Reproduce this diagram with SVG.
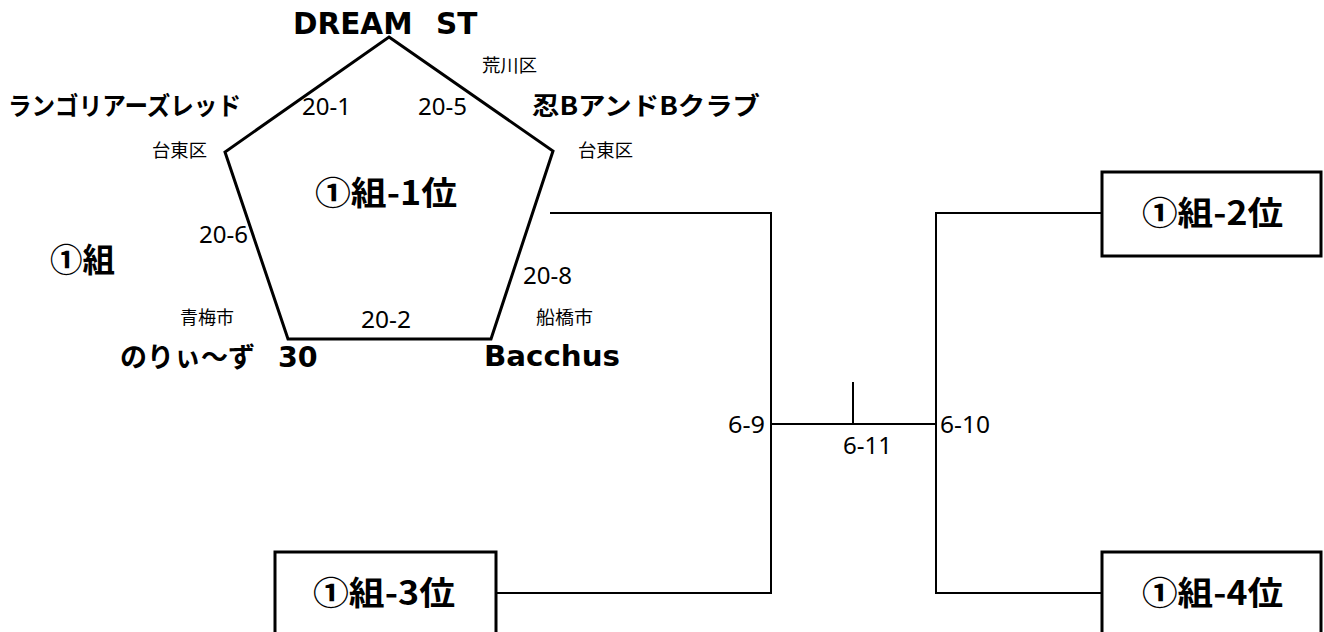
<svg xmlns="http://www.w3.org/2000/svg" width="1324" height="632" viewBox="0 0 1324 632">
<style>
.bg{fill:#fff}
.pent{fill:none;stroke:#000;stroke-width:3;stroke-linejoin:miter}
.conn{fill:none;stroke:#000;stroke-width:2}
.box{fill:#fff;stroke:#000;stroke-width:3}
.latb{font-family:"DejaVu Sans","Noto Sans CJK JP",sans-serif;font-weight:bold;fill:#000}
.jpb{font-family:"Noto Sans CJK JP",sans-serif;font-weight:bold;fill:#000}
.jp{font-family:"Noto Sans CJK JP",sans-serif;font-size:18px;fill:#000}
.num{font-family:"Noto Sans","DejaVu Sans",sans-serif;font-size:24px;fill:#000}
.rank{font-family:"Noto Sans CJK JP",sans-serif;font-weight:bold;font-size:33px;fill:#000}
</style>
<rect class="bg" x="0" y="0" width="1324" height="632"/>
<g id="connectors">
<path class="conn" d="M550 213 H771 V593 H497"/>
<path class="conn" d="M771 424 H936"/>
<path class="conn" d="M853 382 V424"/>
<path class="conn" d="M1102 213 H936 V593 H1102"/>
</g>
<g id="group1-league">
<polygon class="pent" points="389,37 553,151 491,339 288,339 225,152"/>
<text class="num" x="302" y="115" textLength="49" lengthAdjust="spacingAndGlyphs">20-1</text>
<text class="num" x="418" y="115" textLength="49" lengthAdjust="spacingAndGlyphs">20-5</text>
<text class="num" x="199" y="243" textLength="49" lengthAdjust="spacingAndGlyphs">20-6</text>
<text class="num" x="523" y="284" textLength="49" lengthAdjust="spacingAndGlyphs">20-8</text>
<text class="num" x="361" y="328" textLength="50" lengthAdjust="spacingAndGlyphs">20-2</text>
<text class="rank" x="315" y="205" textLength="142" lengthAdjust="spacingAndGlyphs">①組-1位</text>
</g>
<g id="group-label">
<text class="rank" x="50" y="272" textLength="65" lengthAdjust="spacingAndGlyphs">①組</text>
</g>
<g id="team-dream-st">
<text class="latb" y="34" font-size="29.5"><tspan x="293">DREAM</tspan><tspan x="436">ST</tspan></text>
<text class="jp" x="482" y="72" textLength="55" lengthAdjust="spacingAndGlyphs">荒川区</text>
</g>
<g id="team-langoliers">
<text class="jpb" x="8" y="115" font-size="25" textLength="233" lengthAdjust="spacingAndGlyphs">ランゴリアーズレッド</text>
<text class="jp" x="152" y="157" textLength="55" lengthAdjust="spacingAndGlyphs">台東区</text>
</g>
<g id="team-shinobi">
<text class="jpb" x="532" y="115" font-size="25" textLength="228" lengthAdjust="spacingAndGlyphs">忍BアンドBクラブ</text>
<text class="jp" x="578" y="157" textLength="55" lengthAdjust="spacingAndGlyphs">台東区</text>
</g>
<g id="team-noriizu">
<text class="jp" x="180" y="324" textLength="54" lengthAdjust="spacingAndGlyphs">青梅市</text>
<text class="latb" y="367"><tspan x="120" font-size="27" font-family="Noto Sans CJK JP, sans-serif">のりぃ～ず</tspan><tspan x="278" font-size="28.5">30</tspan></text>
</g>
<g id="team-bacchus">
<text class="jp" x="536" y="324" textLength="57" lengthAdjust="spacingAndGlyphs">船橋市</text>
<text class="latb" x="484" y="366" font-size="28" textLength="136" lengthAdjust="spacingAndGlyphs">Bacchus</text>
</g>
<g id="box-rank2">
<rect class="box" x="1102" y="172" width="219" height="84"/>
<text class="rank" x="1142" y="225" textLength="141" lengthAdjust="spacingAndGlyphs">①組-2位</text>
</g>
<g id="box-rank3">
<rect class="box" x="275" y="552" width="221" height="90"/>
<text class="rank" x="313" y="605" textLength="142" lengthAdjust="spacingAndGlyphs">①組-3位</text>
</g>
<g id="box-rank4">
<rect class="box" x="1102" y="552" width="219" height="90"/>
<text class="rank" x="1142" y="605" textLength="141" lengthAdjust="spacingAndGlyphs">①組-4位</text>
</g>
<g id="match-labels">
<text class="num" x="728" y="433" textLength="37" lengthAdjust="spacingAndGlyphs">6-9</text>
<text class="num" x="940" y="433" textLength="50" lengthAdjust="spacingAndGlyphs">6-10</text>
<text class="num" x="843" y="454" textLength="49" lengthAdjust="spacingAndGlyphs">6-11</text>
</g>
</svg>
